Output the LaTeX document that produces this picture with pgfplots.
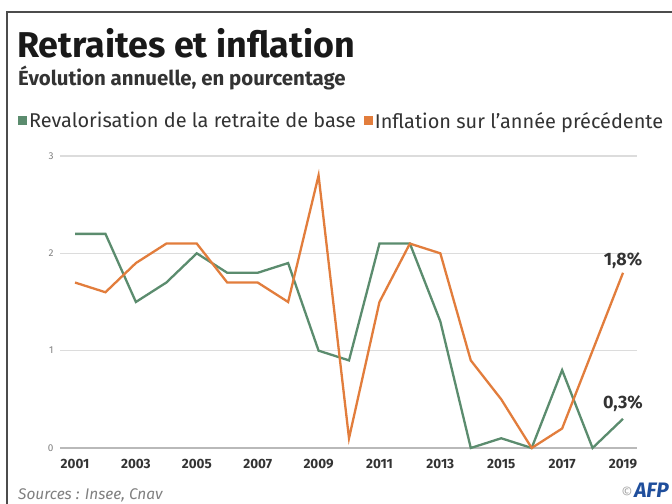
\documentclass[border=0pt]{standalone}
\usepackage{fontspec}
\setmainfont{Fira Sans}
\usepackage{pgfplots}
\pgfplotsset{compat=1.18}

\definecolor{vert}{HTML}{5B8C6E}
\definecolor{inflorange}{HTML}{E27D3C}
\definecolor{grille}{HTML}{DCDCDC}
\definecolor{texte}{HTML}{333333}
\definecolor{afpblue}{HTML}{1F4E9C}

% revalorisation de la retraite de base (%)
\pgfplotstableread{
annee val
2001 2.2
2002 2.2
2003 1.5
2004 1.7
2005 2.0
2006 1.8
2007 1.8
2008 1.9
2009 1.0
2010 0.9
2011 2.1
2012 2.1
2013 1.3
2014 0.0
2015 0.1
2016 0.0
2017 0.8
2018 0.0
2019 0.3
}\revalo

% inflation sur l'annee precedente (%)
\pgfplotstableread{
annee val
2001 1.7
2002 1.6
2003 1.9
2004 2.1
2005 2.1
2006 1.7
2007 1.7
2008 1.5
2009 2.8
2010 0.1
2011 1.5
2012 2.1
2013 2.0
2014 0.9
2015 0.5
2016 0.0
2017 0.2
2018 1.0
2019 1.8
}\inflation

\begin{document}
\begin{tikzpicture}[x=1bp,y=1bp]
\useasboundingbox (0,0) rectangle (672,504);
\fill[white] (0,0) rectangle (672,504);
\draw[line width=1.5bp, black!70] (7,0) -- (7,492) -- (672,492);

\node[anchor=base west, inner sep=0, font=\bfseries\fontsize{36}{36}\selectfont, text=black!90] at (17,446) {Retraites et inflation};
\node[anchor=base west, inner sep=0, font=\bfseries\fontsize{20.5}{20.5}\selectfont, text=texte] at (18,418) {Évolution annuelle, en pourcentage};

\node[anchor=base west, inner sep=0, font=\itshape\fontsize{15.5}{15.5}\selectfont, text=gray] at (18,4) {Sources : Insee, Cnav};
\node[anchor=base east, inner sep=0] at (669,6) {\textcolor{gray!70}{\fontsize{14}{14}\selectfont ©}\,\textcolor{afpblue}{\fontsize{21}{21}\selectfont\bfseries\itshape AFP}};

\begin{axis}[
    at={(60bp,56bp)}, anchor=south west,
    scale only axis,
    width=577bp, height=292bp,
    xmin=2000.507, xmax=2019.46,
    ymin=0, ymax=3,
    clip=false,
    axis line style={draw=none},
    tick style={draw=none},
    ymajorgrids,
    grid style={grille, line width=1.2bp},
    xtick={2001,2003,...,2019},
    xticklabels={2001,2003,2005,2007,2009,2011,2013,2015,2017,2019},
    ytick={0,1,2,3},
    /pgf/number format/assume math mode=true,
    xticklabel style={font=\bfseries\fontsize{13.5}{13.5}\selectfont, text=texte, yshift=-8bp},
    yticklabel style={font=\fontsize{10}{10}\selectfont, text=gray, xshift=-3bp},
    legend style={at={(-0.0728,1.12)}, anchor=west, draw=none, fill=none,
        inner sep=0pt, font=\fontsize{20}{20}\selectfont, text=texte,
        legend columns=2,
        /tikz/every even column/.append style={column sep=6bp}},
    legend image code/.code={\fill[#1, draw=none] (0bp,-4.5bp) rectangle (9bp,4.5bp);},
    legend cell align=left,
]
\draw[gray!55, line width=2bp] (axis cs:2000.507,0) -- (axis cs:2019.46,0);
\addplot[vert, line width=2.3bp] table[x=annee, y=val] {\revalo};
\addlegendentry{Revalorisation de la retraite de base}
\addplot[inflorange, line width=2.3bp] table[x=annee, y=val] {\inflation};
\addlegendentry{Inflation sur l'année précédente}

\node[font=\bfseries\fontsize{18}{18}\selectfont, text=texte] at (axis cs:2019,1.93) {1,8\%};
\node[font=\bfseries\fontsize{18}{18}\selectfont, text=texte] at (axis cs:2019,0.46) {0,3\%};
\end{axis}
\end{tikzpicture}
\end{document}
